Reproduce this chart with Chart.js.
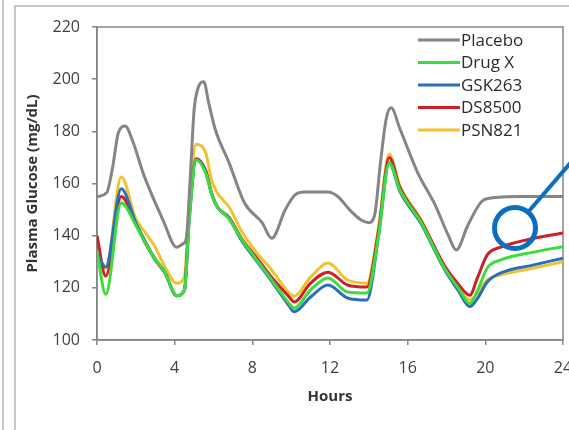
<!DOCTYPE html>
<html>
<head>
<meta charset="utf-8">
<script src="https://cdn.jsdelivr.net/npm/chart.js@4.4.0/dist/chart.umd.min.js"></script>
<style>
  body { margin: 0; background: #fff; }
  canvas { display: block; }
</style>
</head>
<body>
<canvas id="glucoseChart" width="569" height="430"></canvas>
<script>
// Placebo profile (hours, mg/dL)
const placeboHours = [0, 0.5, 0.8, 1.1, 1.45, 1.85, 2.4, 3.4, 4.1, 4.45, 4.6, 4.8, 5.0, 5.2, 5.5, 5.75, 6.1, 6.8, 7.6, 8.5, 9.0, 9.7, 10.2, 10.7, 11.9, 12.4, 13.0, 13.6, 14.0, 14.3, 14.6, 14.9, 15.15, 15.6, 16.5, 17.4, 18.1, 18.5, 19.1, 19.8, 20.4, 22, 24];
const placebo      = [155, 156.5, 166, 179.5, 182, 176, 163.5, 146, 135.6, 137, 139, 162, 188, 196.5, 199, 191, 180.5, 168, 152.5, 145, 139, 150, 155.6, 156.7, 156.7, 155, 150, 146, 145, 148, 168, 185, 189, 181, 164.4, 152, 140, 134.5, 144, 153, 154.5, 155, 155];

// Treated groups share one sampling grid
const drugHours = [0, 0.45, 1.25, 2.0, 2.5, 3.0, 3.5, 4.1, 4.5, 4.75, 5.1, 5.6, 5.9, 6.2, 6.8, 7.5, 8.2, 9.0, 9.9, 10.15, 11.0, 11.9, 12.9, 13.9, 14.5, 15.05, 15.6, 16.7, 17.9, 18.6, 19.2, 19.6, 20.1, 20.8, 22.5, 24];
const drugX  = [134, 117.5, 152.5, 144, 137, 131, 126, 117, 119, 146, 169, 164, 156, 151, 146.5, 138, 131, 123, 114, 112.2, 119.2, 123.8, 118.4, 118, 140, 168, 157.5, 145, 127.5, 120, 114, 119, 127.6, 130.7, 133.7, 135.8];
const gsk263 = [133, 128, 158, 145, 137.5, 131, 126, 117, 119, 146, 169, 164.5, 156, 151, 146.5, 137.5, 130.5, 122.5, 113, 110.8, 116.5, 121.1, 116.1, 115.3, 140, 168, 157, 144.5, 127, 119, 112.8, 116, 122.2, 125.7, 128.8, 131.4];
const ds8500 = [140, 124.5, 155, 144.5, 137, 130.7, 125.7, 117, 119, 148, 169.5, 165, 156.4, 151, 147, 138.3, 131.8, 124, 116.5, 114.6, 121.8, 126, 121.1, 120.3, 142, 170, 158.5, 145.5, 128.5, 121.5, 117.2, 124, 132.6, 135.6, 139, 141];
const psn821 = [129.5, 127.5, 162.5, 146.5, 141, 135.6, 128, 121.8, 124, 152, 175, 171.7, 161.3, 156.4, 151, 141, 133.7, 126.8, 118, 116.8, 124.1, 129.5, 123, 121.8, 143, 171.3, 159, 146, 128, 120, 115.3, 118, 123, 125, 127.6, 130];

const seriesNames  = ['Placebo', 'Drug X', 'GSK263', 'DS8500', 'PSN821'];
const seriesColors = ['#858585', '#3cdc3c', '#2a6fbd', '#cf1f26', '#f2c12e'];
const hourTicks    = [0, 4, 8, 12, 16, 20, 24];
const glucoseTicks = [100, 120, 140, 160, 180, 200, 220];

const toPoints = (hours, values) => hours.map((h, i) => ({ x: h, y: values[i] }));

const axisGrey = '#868686';
const labelGrey = '#404040';
Chart.defaults.font.family = "'Open Sans', sans-serif";

// White page with the double frame on the left and the top rule
const pageFrame = {
    id: 'pageFrame',
    beforeDraw(chart) {
        const ctx = chart.ctx;
        ctx.save();
        ctx.fillStyle = '#fff';
        ctx.fillRect(0, 0, chart.width, chart.height);
        ctx.strokeStyle = '#b5b5b5';
        ctx.lineWidth = 1.5;
        ctx.beginPath();
        ctx.moveTo(3, 0); ctx.lineTo(3, chart.height);
        ctx.moveTo(15, chart.height); ctx.lineTo(15, 6); ctx.lineTo(chart.width, 6);
        ctx.stroke();
        ctx.restore();
    },
    beforeDatasetsDraw(chart) {
        const { ctx, chartArea: a } = chart;
        ctx.save();
        ctx.strokeStyle = axisGrey;
        ctx.lineWidth = 1.5;
        ctx.strokeRect(a.left, a.top, a.right - a.left, a.bottom - a.top);
        ctx.restore();
    }
};

// Legend stacked in the upper right of the plot area
const insideLegend = {
    id: 'insideLegend',
    afterDatasetsDraw(chart) {
        const ctx = chart.ctx;
        ctx.save();
        ctx.font = "17px 'Open Sans'";
        ctx.textBaseline = 'middle';
        chart.data.datasets.forEach((ds, i) => {
            const y = 40 + i * 22.5;
            ctx.strokeStyle = ds.borderColor;
            ctx.lineWidth = 3;
            ctx.beginPath();
            ctx.moveTo(418, y);
            ctx.lineTo(460, y);
            ctx.stroke();
            ctx.fillStyle = '#2b2b2b';
            ctx.fillText(ds.label, 461, y + 1);
        });
        ctx.restore();
    }
};

// Blue callout ring with its leader line
const callout = {
    id: 'callout',
    afterDraw(chart) {
        const ctx = chart.ctx;
        ctx.save();
        ctx.strokeStyle = '#0b6fc1';
        ctx.lineWidth = 5;
        ctx.beginPath();
        ctx.arc(515, 228, 20.5, 0, Math.PI * 2);
        ctx.stroke();
        ctx.lineWidth = 4;
        ctx.beginPath();
        ctx.moveTo(529, 211);
        ctx.lineTo(573, 160);
        ctx.stroke();
        ctx.restore();
    }
};

const series = [
    toPoints(placeboHours, placebo),
    toPoints(drugHours, drugX),
    toPoints(drugHours, gsk263),
    toPoints(drugHours, ds8500),
    toPoints(drugHours, psn821)
];

new Chart(document.getElementById('glucoseChart'), {
    type: 'line',
    data: {
        datasets: seriesNames.map((name, i) => ({
            label: name,
            data: series[i],
            borderColor: seriesColors[i],
            backgroundColor: seriesColors[i],
            borderWidth: 3,
            pointRadius: 0,
            cubicInterpolationMode: 'monotone',
            fill: false
        }))
    },
    options: {
        responsive: false,
        animation: false,
        devicePixelRatio: 1,
        layout: { padding: { left: 0, top: 27, right: 6, bottom: 0 } },
        plugins: { legend: { display: false }, tooltip: { enabled: false } },
        scales: {
            x: {
                type: 'linear',
                min: 0,
                max: 24,
                afterBuildTicks: s => { s.ticks = hourTicks.map(v => ({ value: v })); },
                afterFit: s => { s.height = 90; s.paddingLeft = 0; s.paddingRight = 0; },
                grid: { drawOnChartArea: false, tickLength: 5, color: axisGrey, lineWidth: 1.5 },
                border: { color: axisGrey, width: 1.5 },
                ticks: { color: labelGrey, font: { size: 16 }, padding: 14, maxRotation: 0 },
                title: {
                    display: true, text: 'Hours', color: '#333',
                    font: { size: 15, weight: 'bold' }, padding: { bottom: 24 }
                }
            },
            y: {
                min: 100,
                max: 220,
                afterBuildTicks: s => { s.ticks = glucoseTicks.map(v => ({ value: v })); },
                afterFit: s => { s.width = 97; s.paddingTop = 0; s.paddingBottom = 0; },
                grid: { drawOnChartArea: false, tickLength: 5, color: axisGrey, lineWidth: 1.5 },
                border: { color: axisGrey, width: 1.5 },
                ticks: { color: labelGrey, font: { size: 16 }, padding: 12 },
                title: {
                    display: true, text: 'Plasma Glucose (mg/dL)', color: '#333',
                    font: { size: 15, weight: 'bold' }, padding: { top: 24 }
                }
            }
        }
    },
    plugins: [pageFrame, insideLegend, callout]
});
</script>
</body>
</html>
